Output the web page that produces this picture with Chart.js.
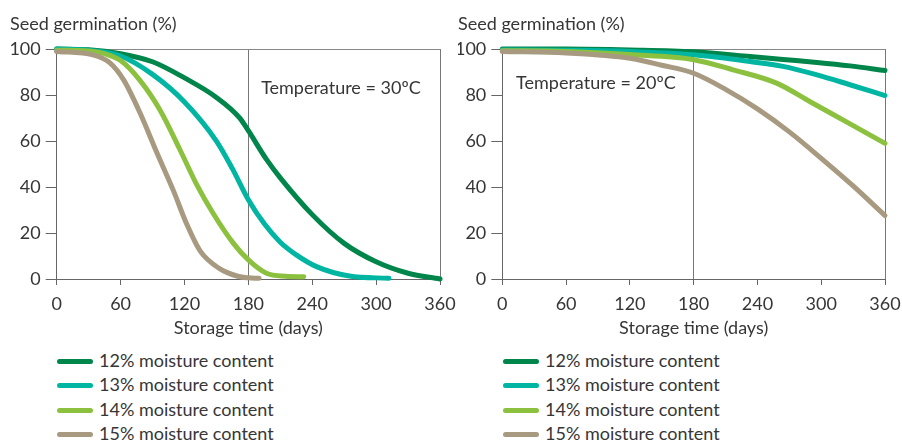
<!DOCTYPE html>
<html>
<head>
<meta charset="utf-8">
<script src="https://cdn.jsdelivr.net/npm/chart.js@4.4.0/dist/chart.umd.min.js"></script>
<style>
  body { margin: 0; background: #fff; width: 902px; height: 443px; overflow: hidden; position: relative; font-family: Lato, sans-serif; }
  .box { position: absolute; top: 0; height: 345px; }
  .legend { position: absolute; top: 348px; font-size: 18px; color: #363636; }
  .legend div { height: 24.4px; line-height: 24.4px; white-space: nowrap; }
  .legend span { display: inline-block; width: 36px; height: 5px; border-radius: 3px; vertical-align: middle; margin-right: 6px; position: relative; top: -1px; }
</style>
</head>
<body>
<div class="box" id="leftBox" style="left:0; width:466px;"><canvas id="left"></canvas></div>
<div class="box" id="rightBox" style="left:447px; width:464px;"><canvas id="right"></canvas></div>
<div class="legend" id="leftLegend" style="left:57px;"></div>
<div class="legend" id="rightLegend" style="left:503px;"></div>
<script>
// storage time (days) and germination (%)
const seriesNames = ['12% moisture content', '13% moisture content', '14% moisture content', '15% moisture content'];
const seriesColors = ['#00854A', '#00B5A2', '#8CC13F', '#A89A80'];
const xTicks = [0, 60, 120, 180, 240, 300, 360];
const yTicks = [0, 20, 40, 60, 80, 100];

// Temperature = 30ºC
const days30_12 = [0, 30, 60, 90, 120, 150, 172, 180, 197, 210, 240, 270, 300, 330, 360];
const germ30_12 = [100, 99.7, 98, 94.5, 87.5, 79, 70, 64.5, 52, 44, 28, 15.5, 7.5, 2.5, 0];
const days30_13 = [0, 30, 60, 90, 120, 150, 165, 180, 195, 210, 225, 244, 275, 312];
const germ30_13 = [100, 99.5, 97, 89, 77, 60, 48, 34.5, 24, 16, 10.5, 5.4, 1.3, 0.3];
const days30_14 = [0, 30, 45, 60, 78, 97, 116, 131, 147, 166, 180, 197, 215, 232];
const germ30_14 = [99.5, 99.2, 98, 95, 86.5, 73.5, 56, 41.5, 28.5, 15.5, 8.3, 2.5, 1.2, 1];
const days30_15 = [0, 34, 50, 63, 78, 94, 110, 122, 135, 153, 170, 180, 190];
const germ30_15 = [99, 97.5, 94, 86.5, 72.5, 55, 38, 24, 12, 4.5, 1.2, 0.5, 0.3];

// Temperature = 20ºC
const days20_12 = [0, 60, 120, 180, 233, 264, 296, 327, 360];
const germ20_12 = [100, 100, 99.6, 98.8, 96.8, 95.5, 94.2, 92.7, 90.7];
const days20_13 = [0, 60, 120, 180, 233, 264, 296, 327, 360];
const germ20_13 = [99.6, 99.5, 99, 97.5, 94.6, 92.5, 88.8, 84.5, 79.8];
const days20_14 = [0, 60, 120, 180, 217, 258, 290, 325, 360];
const germ20_14 = [99.3, 99, 97.6, 95.4, 91, 85.2, 77, 68, 59];
const days20_15 = [0, 60, 120, 150, 180, 210, 240, 270, 300, 330, 360];
const germ20_15 = [99, 98.3, 96, 93, 89.5, 82.5, 74, 64, 52.5, 40.5, 27.6];

const FONT = 'Lato, "Open Sans", sans-serif';
const TEXT = '#363636';
const AXIS = '#666666';

function pts(xs, ys) {
  return xs.map((x, i) => ({ x: x, y: ys[i] }));
}

// writes the "Temperature = ..." note inside the plot
const notePlugin = {
  id: 'note',
  afterDatasetsDraw(chart, args, opts) {
    const { ctx } = chart;
    const x = chart.scales.x.getPixelForValue(opts.atX);
    const y = chart.scales.y.getPixelForValue(opts.atY);
    ctx.save();
    ctx.font = '18px ' + FONT;
    ctx.fillStyle = TEXT;
    ctx.textBaseline = 'middle';
    ctx.textAlign = 'left';
    ctx.fillText(opts.text, x, y);
    ctx.restore();
  }
};

function makeChart(id, dataSets, note, padLeft, padRight, yWidth) {
  const f = { family: FONT, size: 18, weight: 'normal', lineHeight: 1.2 };
  return new Chart(document.getElementById(id), {
    type: 'line',
    plugins: [notePlugin],
    data: {
      datasets: dataSets.map((d, i) => ({
        label: seriesNames[i],
        data: pts(d[0], d[1]),
        borderColor: seriesColors[i],
        backgroundColor: seriesColors[i],
        borderWidth: 5,
        borderCapStyle: 'round',
        borderJoinStyle: 'round',
        pointRadius: 0,
        cubicInterpolationMode: 'monotone',
        clip: false
      })).reverse()
    },
    options: {
      responsive: true,
      maintainAspectRatio: false,
      animation: false,
      events: [],
      layout: { padding: { left: padLeft, right: padRight, top: 0, bottom: 0 } },
      plugins: {
        legend: { display: false },
        tooltip: { enabled: false },
        title: {
          display: true,
          text: 'Seed germination (%)',
          align: 'start',
          color: TEXT,
          font: f,
          padding: { top: 13.5, bottom: 14 }
        },
        note: note
      },
      scales: {
        x: {
          type: 'linear',
          min: 0,
          max: 360,
          afterBuildTicks: s => { s.ticks = xTicks.map(v => ({ value: v })); },
          afterFit: s => { s.height = 66; },
          border: { display: true, color: AXIS, width: 1 },
          grid: {
            drawOnChartArea: true,
            color: c => (c.tick && (c.tick.value === 180 || c.tick.value === 360)) ? '#777777' : 'rgba(0,0,0,0)',
            tickColor: AXIS,
            tickLength: 6,
            lineWidth: 1
          },
          ticks: { color: TEXT, font: f, padding: 8, maxRotation: 0 },
          title: {
            display: true,
            text: 'Storage time (days)',
            color: TEXT,
            font: f,
            padding: { top: 0, bottom: 6 }
          }
        },
        y: {
          min: 0,
          max: 100,
          afterBuildTicks: s => { s.ticks = yTicks.map(v => ({ value: v })); },
          afterFit: s => { s.width = yWidth; },
          border: { display: true, color: AXIS, width: 1 },
          grid: {
            color: c => (c.tick && c.tick.value === 100) ? '#888888' : 'rgba(0,0,0,0)',
            tickColor: AXIS,
            tickLength: 11,
            lineWidth: 1
          },
          ticks: { color: TEXT, font: f, padding: 5 }
        }
      }
    }
  });
}

makeChart('left', [[days30_12, germ30_12], [days30_13, germ30_13], [days30_14, germ30_14], [days30_15, germ30_15]],
  { text: 'Temperature = 30ºC', atX: 192, atY: 83 }, 10, 26, 46.7);
makeChart('right', [[days20_12, germ20_12], [days20_13, germ20_13], [days20_14, germ20_14], [days20_15, germ20_15]],
  { text: 'Temperature = 20ºC', atX: 13, atY: 85 }, 11, 26, 44.3);

function fillLegend(id) {
  const el = document.getElementById(id);
  seriesNames.forEach((name, i) => {
    const row = document.createElement('div');
    const sw = document.createElement('span');
    sw.style.background = seriesColors[i];
    row.appendChild(sw);
    row.appendChild(document.createTextNode(name));
    el.appendChild(row);
  });
}
fillLegend('leftLegend');
fillLegend('rightLegend');
</script>
</body>
</html>
